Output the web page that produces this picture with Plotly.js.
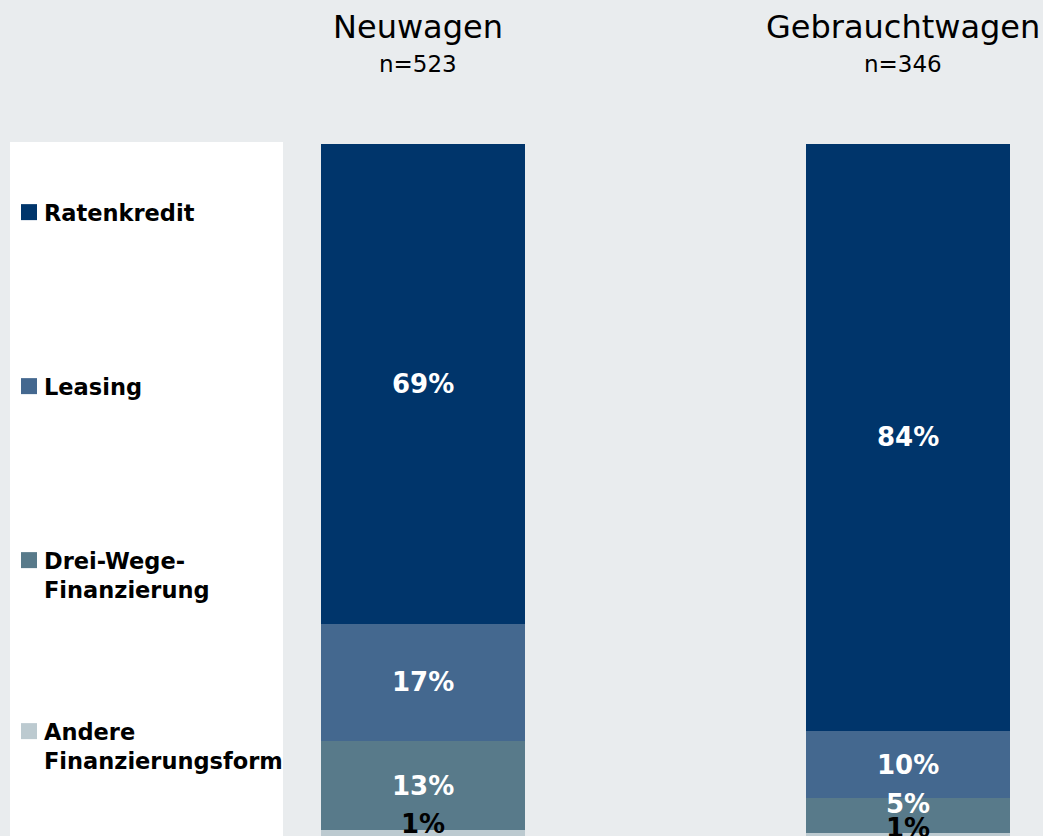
<!DOCTYPE html>
<html>
<head>
<meta charset="utf-8">
<script src="https://cdn.plot.ly/plotly-3.0.1.min.js"></script>
<style>html,body{margin:0;padding:0;background:#e9ecee;}#chart{width:1043px;height:836px;}</style>
</head>
<body>
<div id="chart"></div>
<script>
// ---- data (shares in %; labels show rounded values) ----
const categories = ["Neuwagen", "Gebrauchtwagen"];
const sampleSizes = ["n=523", "n=346"];
const seriesNames = ["Andere<br>Finanzierungsform", "Drei-Wege-<br>Finanzierung", "Leasing", "Ratenkredit"];
const andere = [1.3, 1.0];
const dreiWege = [12.9, 4.9];
const leasing = [16.8, 9.7];
const ratenkredit = [69.0, 84.4];
const seriesValues = [andere, dreiWege, leasing, ratenkredit];

// ---- style ----
const colors = ["#bccad0", "#587a8a", "#44688f", "#00356b"];
const labelColors = ["#000000", "#ffffff", "#ffffff", "#ffffff"];
const legendIds = ["legend4", "legend3", "legend2", "legend"];
const legendTopPx = [710, 539, 365, 191];
// pixel offsets of value labels for small segments [series][category]
const labelShift = [[6, 5], [0, -6], [0, 0], [0, 0]];
const W = 1043, H = 836;

const traces = seriesValues.map((vals, i) => ({
  type: "bar",
  name: seriesNames[i],
  x: categories,
  y: vals,
  width: 0.42,
  marker: {color: colors[i], line: {width: 0}},
  hoverinfo: "none",
  legend: legendIds[i],
  showlegend: true
}));

const annotations = [];
categories.forEach((c, ci) => {
  let cum = 0;
  seriesValues.forEach((vals, si) => {
    const v = vals[ci];
    const small = v < 8;
    const yPos = small ? cum + v : cum + v / 2;
    annotations.push({
      x: c, y: yPos, xref: "x", yref: "y",
      text: "<b>" + Math.round(v) + "%</b>",
      showarrow: false,
      yanchor: "middle",
      yshift: small ? labelShift[si][ci] : 0,
      font: {family: "DejaVu Sans", size: 26, color: labelColors[si]}
    });
    cum += v;
  });
  annotations.push({
    x: c, y: 1 - 27 / H, xref: "x", yref: "paper",
    text: c, showarrow: false, xshift: -5, yanchor: "middle",
    font: {family: "DejaVu Sans", size: 32, color: "#000"}
  });
  annotations.push({
    x: c, y: 1 - 64 / H, xref: "x", yref: "paper",
    text: sampleSizes[ci], showarrow: false, xshift: -5, yanchor: "middle",
    font: {family: "DejaVu Sans", size: 23, color: "#000"}
  });
});

const layout = {
  width: W, height: H,
  margin: {l: 0, r: 0, t: 0, b: 0},
  paper_bgcolor: "#e9ecee",
  plot_bgcolor: "rgba(0,0,0,0)",
  barmode: "stack",
  xaxis: {type: "category", range: [-0.872, 1.278], visible: false, fixedrange: true},
  yaxis: {range: [0.5, 100], domain: [0, 1 - 143.5 / H], visible: false, fixedrange: true},
  shapes: [{
    type: "rect", xref: "paper", yref: "paper", layer: "below",
    x0: 10 / W, x1: 283 / W, y0: 0, y1: 1 - 142 / H,
    fillcolor: "#ffffff", line: {width: 0}
  }],
  annotations: annotations,
  hovermode: false
};
legendIds.forEach((id, i) => {
  layout[id] = {
    x: 4 / W, y: 1 - legendTopPx[i] / H, xanchor: "left", yanchor: "top",
    bgcolor: "rgba(0,0,0,0)", borderwidth: 0, valign: "top",
    font: {family: "DejaVu Sans", size: 22.5, color: "#000", weight: "bold"}
  };
});

Plotly.newPlot("chart", traces, layout, {displayModeBar: false, staticPlot: true}).then(gd => {
  // enlarge legend squares to match the reference's marker size
  gd.querySelectorAll(".legendpoints path").forEach(p => {
    const t = p.getAttribute("transform") || "";
    p.setAttribute("transform", t + " translate(5,0) scale(1.333)");
  });
});
</script>
</body>
</html>
